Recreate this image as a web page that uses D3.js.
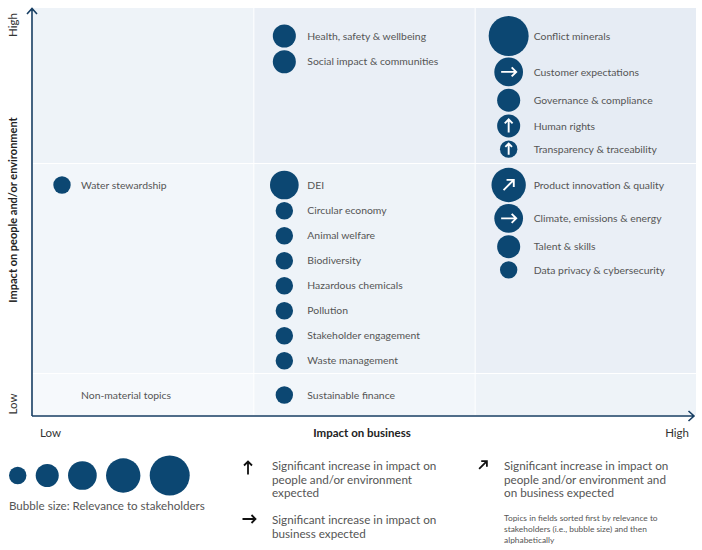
<!DOCTYPE html>
<html>
<head>
<meta charset="utf-8">
<script src="https://cdn.jsdelivr.net/npm/d3@7"></script>
<style>
  body { margin: 0; background: #fff; }
  text { font-family: Lato, "Noto Sans", sans-serif; }
</style>
</head>
<body>
<svg id="matrix"></svg>
<script>
// topics in the order they are listed inside each field
const topics = [
  "Conflict minerals", "Customer expectations", "Governance & compliance", "Human rights", "Transparency & traceability",
  "Health, safety & wellbeing", "Social impact & communities",
  "Product innovation & quality", "Climate, emissions & energy", "Talent & skills", "Data privacy & cybersecurity",
  "DEI", "Circular economy", "Animal welfare", "Biodiversity", "Hazardous chemicals", "Pollution", "Stakeholder engagement", "Waste management",
  "Water stewardship",
  "Sustainable finance"
];
const businessImpact = [
  "High", "High", "High", "High", "High",
  "Medium", "Medium",
  "High", "High", "High", "High",
  "Medium", "Medium", "Medium", "Medium", "Medium", "Medium", "Medium", "Medium",
  "Low",
  "Medium"
];
const peopleImpact = [
  "High", "High", "High", "High", "High",
  "High", "High",
  "Medium", "Medium", "Medium", "Medium",
  "Medium", "Medium", "Medium", "Medium", "Medium", "Medium", "Medium", "Medium",
  "Medium",
  "Low"
];
const relevance = [
  5, 3, 2, 2, 1,
  2, 2,
  4, 3, 2, 1,
  3, 1, 1, 1, 1, 1, 1, 1,
  1,
  1
];
// expected change: up = people/environment, right = business, diag = both
const trend = [
  "", "right", "", "up", "up",
  "", "",
  "diag", "right", "", "",
  "", "", "", "", "", "", "", "",
  "",
  ""
];
const levels = ["Low", "Medium", "High"];
const sizeLevels = [1, 2, 3, 4, 5];
const fieldNotes = [{ business: "Low", people: "Low", text: "Non-material topics" }];
const trendLegend = [
  { trend: "up", lines: ["Significant increase in impact on", "people and/or environment", "expected"] },
  { trend: "right", lines: ["Significant increase in impact on", "business expected"] },
  { trend: "diag", lines: ["Significant increase in impact on", "people and/or environment and", "on business expected"] }
];
const sortNote = ["Topics in fields sorted first by relevance to", "stakeholders (i.e., bubble size) and then", "alphabetically"];

const W = 702, H = 550;
const navy = "#0c4772", axisColor = "#173e63", textColor = "#555";

const svg = d3.select("#matrix").attr("width", W).attr("height", H);

// columns: business impact
const x = d3.scaleBand().domain(levels).range([33, 696]).paddingInner(0.0045);
// rows: people impact (fields have different heights)
const rowTop = d3.scaleOrdinal().domain(["High", "Medium", "Low"]).range([8, 164, 374]);
const rowBottom = d3.scaleOrdinal().domain(["High", "Medium", "Low"]).range([163, 373, 415]);
const rowPad = d3.scaleOrdinal().domain(["High", "Medium", "Low"]).range([28, 21, 21]);
const bubbleOffset = d3.scaleOrdinal().domain(levels).range([29, 30, 33]);
const labelOffset = d3.scaleOrdinal().domain(levels).range([48, 53, 58]);
const r = d3.scaleLinear().domain([1, 5]).range([8.7, 20]);
const shade = d3.scaleLinear().domain([0, 4]).range(["#f6f9fc", "#e6ecf4"]);

// background fields
const cells = [];
levels.forEach((b, bi) => levels.forEach((p, pi) => cells.push({ b, p, k: bi + pi })));
svg.append("g").selectAll("rect")
  .data(cells).enter().append("rect")
  .attr("x", d => x(d.b))
  .attr("y", d => rowTop(d.p))
  .attr("width", x.bandwidth())
  .attr("height", d => rowBottom(d.p) - rowTop(d.p))
  .attr("fill", d => shade(d.k));

// stack topics inside each field
const data = topics.map((t, i) => ({
  name: t, b: businessImpact[i], p: peopleImpact[i], rel: relevance[i], trend: trend[i]
}));
d3.groups(data, d => d.b + "|" + d.p).forEach(([key, items]) => {
  let y = rowTop(items[0].p) + rowPad(items[0].p);
  items.forEach((d, i) => {
    if (i > 0) {
      const prev = items[i - 1];
      const minStep = d.b === "High" ? 22 : 25;
      y += Math.max(minStep, 0.9 * (r(prev.rel) + r(d.rel)) + 5);
    }
    d.cy = y;
    d.cx = x(d.b) + bubbleOffset(d.b);
  });
});

// arrow path: shaft + open head, pointing right, rotated afterwards
function arrowPath(len, head) {
  return `M${-len},0L${len},0M${len - head},${-head}L${len},0L${len - head},${head}`;
}
const angle = { up: -90, right: 0, diag: -45 };

const topic = svg.append("g").selectAll("g")
  .data(data).enter().append("g")
  .attr("transform", d => `translate(${d.cx},${d.cy})`);

topic.append("circle")
  .attr("r", d => r(d.rel))
  .attr("fill", navy);

topic.filter(d => d.trend).append("path")
  .attr("d", d => {
    const l = 0.35 * r(d.rel) + 2.5;
    return arrowPath(d.trend === "diag" ? l * 0.85 : l, l * 0.6);
  })
  .attr("transform", d => `rotate(${angle[d.trend]})`)
  .attr("fill", "none")
  .attr("stroke", "#fff")
  .attr("stroke-width", 1.9);

topic.append("text")
  .attr("x", d => labelOffset(d.b) - bubbleOffset(d.b))
  .attr("dy", "0.35em")
  .attr("font-size", 10.4)
  .attr("fill", textColor)
  .text(d => d.name);

svg.append("g").selectAll("text")
  .data(fieldNotes).enter().append("text")
  .attr("x", d => x(d.business) + labelOffset(d.business))
  .attr("y", d => rowTop(d.people) + rowPad(d.people))
  .attr("dy", "0.35em")
  .attr("font-size", 10.4)
  .attr("fill", textColor)
  .text(d => d.text);

// axes
const axes = svg.append("g")
  .attr("fill", "none")
  .attr("stroke", axisColor)
  .attr("stroke-width", 1.6);
axes.append("path").attr("d", "M32,416V9M27,14L32,8.5L37,14");
axes.append("path").attr("d", "M32,416H694M688.5,411L694,416L688.5,421");

svg.append("text")
  .attr("transform", "translate(17,25) rotate(-90)")
  .attr("text-anchor", "middle").attr("font-size", 11.5).attr("fill", "#333")
  .text("High");
svg.append("text")
  .attr("transform", "translate(17,404) rotate(-90)")
  .attr("text-anchor", "middle").attr("font-size", 11.5).attr("fill", "#333")
  .text("Low");
svg.append("text")
  .attr("transform", "translate(17,210) rotate(-90)")
  .attr("text-anchor", "middle").attr("font-size", 11).attr("font-weight", "bold").attr("fill", "#222")
  .text("Impact on people and/or environment");

svg.append("text")
  .attr("x", 40).attr("y", 437)
  .attr("font-size", 11.5).attr("fill", "#333")
  .text("Low");
svg.append("text")
  .attr("x", 362).attr("y", 437)
  .attr("text-anchor", "middle").attr("font-size", 11.5).attr("font-weight", "bold").attr("fill", "#222")
  .text("Impact on business");
svg.append("text")
  .attr("x", 689).attr("y", 437)
  .attr("text-anchor", "end").attr("font-size", 11.5).attr("fill", "#333")
  .text("High");

// bubble size legend
let lx = 9;
const sizeG = svg.append("g");
sizeLevels.forEach(s => {
  sizeG.append("circle")
    .attr("cx", lx + r(s))
    .attr("cy", 475.5)
    .attr("r", r(s))
    .attr("fill", navy);
  lx += 2 * r(s) + 9.3;
});
svg.append("text")
  .attr("x", 9).attr("y", 510)
  .attr("font-size", 11.6).attr("fill", textColor)
  .text("Bubble size: Relevance to stakeholders");

// arrow legend
const legendPos = [
  { ax: 248, ay: 468, tx: 272, ty: 470 },
  { ax: 249, ay: 519, tx: 272, ty: 524 },
  { ax: 483, ay: 465, tx: 504, ty: 470 }
];
trendLegend.forEach((d, i) => {
  const pos = legendPos[i];
  const l = d.trend === "diag" ? 5.5 : 6.5;
  svg.append("path")
    .attr("d", arrowPath(l, 4))
    .attr("transform", `translate(${pos.ax},${pos.ay}) rotate(${angle[d.trend]})`)
    .attr("fill", "none")
    .attr("stroke", "#111")
    .attr("stroke-width", 1.8);
  svg.append("text")
    .attr("x", pos.tx).attr("y", pos.ty)
    .attr("font-size", 11.7).attr("fill", textColor)
    .selectAll("tspan").data(d.lines).enter().append("tspan")
    .attr("x", pos.tx).attr("dy", (t, j) => j === 0 ? 0 : 13.5)
    .text(t => t);
});

svg.append("text")
  .attr("x", 504).attr("y", 521)
  .attr("font-size", 8.4).attr("fill", textColor)
  .selectAll("tspan").data(sortNote).enter().append("tspan")
  .attr("x", 504).attr("dy", (t, j) => j === 0 ? 0 : 11)
  .text(t => t);
</script>
</body>
</html>
